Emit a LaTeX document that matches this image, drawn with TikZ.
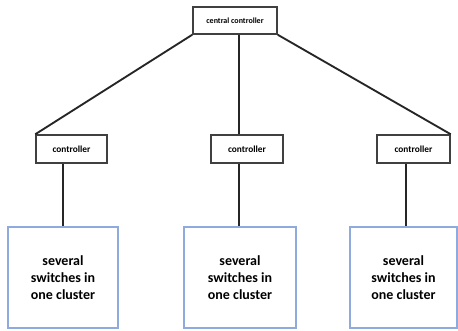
\documentclass[tikz,border=0pt]{standalone}
\usepackage{fontspec}
\setmainfont{Carlito}
\definecolor{clblue}{HTML}{8FAADC}
\definecolor{boxgray}{HTML}{404040}
\begin{document}
\begin{tikzpicture}[x=0.75pt,y=-0.75pt,
  ctrl/.style={draw=boxgray,line width=1.1pt,fill=white,inner sep=0pt,font=\bfseries\fontsize{7}{8}\selectfont},
  clus/.style={draw=clblue,line width=1.1pt,fill=white,inner sep=0pt,align=center,font=\bfseries\fontsize{10.5}{13}\selectfont},
  link/.style={draw=black!85,line width=1.4pt}]
\useasboundingbox (0,0) rectangle (458,330);
\node[ctrl,font=\bfseries\fontsize{6}{7}\selectfont,minimum width=84*0.75pt,minimum height=27*0.75pt] (cc) at (235,20.5) {central controller};
\node[ctrl,minimum width=71*0.75pt,minimum height=28*0.75pt] (c1) at (71.5,149) {controller};
\node[ctrl,minimum width=72*0.75pt,minimum height=28*0.75pt] (c2) at (247,149) {controller};
\node[ctrl,minimum width=73*0.75pt,minimum height=28*0.75pt] (c3) at (413.5,149) {controller};
\node[clus,minimum width=110*0.75pt,minimum height=101*0.75pt] (s1) at (63,277.5) {several\\switches in\\one cluster};
\node[clus,minimum width=112*0.75pt,minimum height=101*0.75pt] (s2) at (240,277.5) {several\\switches in\\one cluster};
\node[clus,minimum width=107*0.75pt,minimum height=101*0.75pt] (s3) at (403.5,277.5) {several\\switches in\\one cluster};
\draw[link] (cc.south west) -- (c1.north west);
\draw[link] (cc.south east) -- (c3.north east);
\draw[link] (cc.south -| 239,0) -- (c2.north -| 239,0);
\draw[link] (c1.south -| s1.north) -- (s1.north);
\draw[link] (c2.south -| 239,0) -- (s2.north -| 239,0);
\draw[link] (c3.south -| 406,0) -- (s3.north -| 406,0);
\end{tikzpicture}
\end{document}
